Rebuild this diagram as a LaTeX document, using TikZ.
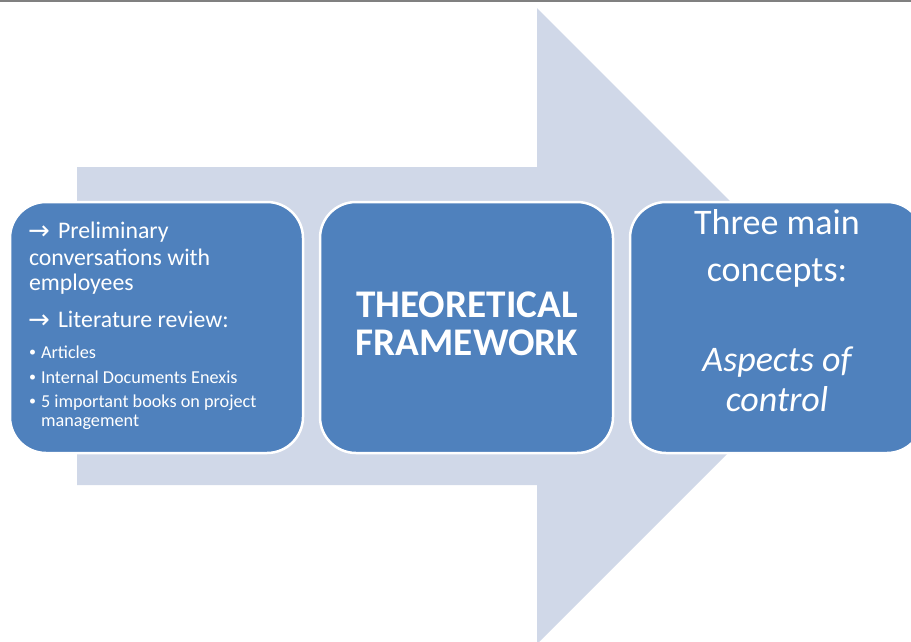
\documentclass[tikz,border=0pt]{standalone}
\usepackage{fontspec}
\setmainfont{Carlito}
\newfontfamily\symfont{DejaVu Sans}
\definecolor{boxblue}{HTML}{4F81BD}
\definecolor{arrowfill}{HTML}{D0D8E8}
\definecolor{topline}{HTML}{808080}
\tikzset{
  box/.style={draw=white, line width=2.5pt, fill=boxblue, rounded corners=36pt,
    minimum width=293pt, minimum height=251pt, inner sep=0pt, outer sep=0pt},
  txt/.style={text=white, inner sep=0pt, outer sep=0pt},
  big/.style={txt, font=\fontsize{23.8}{26}\selectfont},
  arr/.style={txt, font=\symfont\fontsize{26}{26}\selectfont},
  small/.style={txt, font=\fontsize{18.2}{20}\selectfont},
  bul/.style={txt, font=\fontsize{14}{16}\selectfont},
  mid/.style={txt, font=\bfseries\fontsize{39.2}{40}\selectfont, anchor=base},
  rgt/.style={txt, font=\fontsize{36}{40}\selectfont, anchor=base},
}
\begin{document}
\begin{tikzpicture}[x=1pt, y=-1pt]
\useasboundingbox (0,0) rectangle (911,641);
\clip (0,0) rectangle (911,641);
\fill[white] (0,0) rectangle (911,641);
% big background arrow
\fill[arrowfill] (77,167) -- (537,167) -- (537,8) -- (855,326) -- (537,644)
  -- (537,485) -- (77,485) -- cycle;
% top rule
\draw[topline, line width=1.6pt] (0,0.8) -- (911,0.8);
% boxes
\node[box] (b1) at (156.5,327.5) {};
\node[box] (b2) at (466.5,327.5) {};
\node[box] (b3) at (776.5,327.5) {};
% left box text
\node[arr, anchor=base west] (a1) at (28,239) {→};
\node[big, anchor=base west] (l1) at (58,238) {Preliminary};
\node[big, anchor=base west] (l2) at (29,265) {conversations with};
\node[big, anchor=base west] (l3) at (29,290) {employees};
\node[arr, anchor=base west] (a2) at (28,328) {→};
\node[big, anchor=base west] (l4) at (58,327) {Literature review:};
\node[bul, anchor=base west] (p1) at (29,356) {•};
\node[small, anchor=base west] (s1) at (41,358) {Articles};
\node[bul, anchor=base west] (p2) at (29,381) {•};
\node[small, anchor=base west] (s2) at (41,383) {Internal Documents Enexis};
\node[bul, anchor=base west] (p3) at (29,405) {•};
\node[small, anchor=base west] (s3) at (41,407) {5 important books on project};
\node[small, anchor=base west] (s4) at (41,426) {management};
% middle box text
\node[mid] (m1) at (467,317) {THEORETICAL};
\node[mid] (m2) at (467,355) {FRAMEWORK};
% right box text
\node[rgt] (r1) at (777,234) {Three main};
\node[rgt] (r2) at (777,281) {concepts:};
\node[rgt, font=\itshape\fontsize{36}{40}\selectfont] (r3) at (777,371) {Aspects of};
\node[rgt, font=\itshape\fontsize{36}{40}\selectfont] (r4) at (777,411) {control};
\end{tikzpicture}
\end{document}
